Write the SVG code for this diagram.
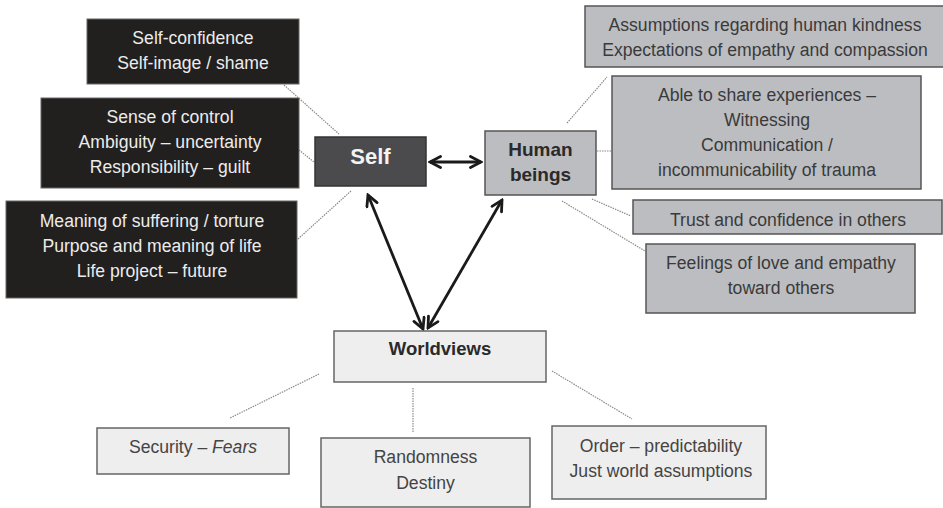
<svg xmlns="http://www.w3.org/2000/svg" width="943" height="508" viewBox="0 0 943 508">
  <defs>
    <marker id="head" viewBox="0 0 14 14" refX="12" refY="7" markerWidth="14" markerHeight="14" markerUnits="userSpaceOnUse" orient="auto-start-reverse">
      <path d="M1.5,1.5 L12,7 L1.5,12.5" fill="none" stroke="#1a1a1a" stroke-width="2.8" stroke-linecap="round" stroke-linejoin="miter"/>
    </marker>
    <style>
      text { font-family: "Liberation Sans", Arial, sans-serif; text-anchor: middle; }
      .dark rect { fill: #221f1f; stroke: #666; stroke-width: 1; }
      .dark text { fill: #ececec; font-size: 17.6px; }
      .gray rect { fill: #bcbdc0; stroke: #555; stroke-width: 1.5; }
      .gray text { fill: #3a3a3a; font-size: 17.6px; }
      .light rect { fill: #eeeeee; stroke: #666; stroke-width: 1.5; }
      .light text { fill: #444; font-size: 17.6px; }
      .hub text { font-weight: bold; fill: #2a2a2a; }
      .dots line { stroke: #8a8a8a; stroke-width: 1.2; stroke-dasharray: 1.5 1; }
      .arrows line { stroke: #1a1a1a; stroke-width: 2.8; marker-start: url(#head); marker-end: url(#head); }
    </style>
  </defs>

  <!-- dotted links from hubs to their topic boxes -->
  <g id="connectors">
    <g class="dots">
      <line x1="284" y1="85" x2="339" y2="134"/>
      <line x1="299" y1="150" x2="314" y2="162"/>
      <line x1="351" y1="191" x2="298" y2="239"/>
      <line x1="567" y1="123" x2="607" y2="77"/>
      <line x1="597" y1="151" x2="612" y2="151"/>
      <line x1="592" y1="199" x2="631" y2="216"/>
      <line x1="562" y1="201" x2="645" y2="251"/>
      <line x1="319" y1="374" x2="230" y2="418"/>
      <line x1="413" y1="388" x2="413" y2="433"/>
      <line x1="552" y1="371" x2="632" y2="419"/>
    </g>
    <g class="arrows">
      <line x1="430" y1="162" x2="481" y2="162"/>
      <line x1="368" y1="195" x2="423" y2="329"/>
      <line x1="502" y1="200" x2="428" y2="328"/>
    </g>
  </g>

  <!-- Self topics -->
  <g id="self-confidence" class="dark">
    <rect x="87" y="19" width="212" height="65"/>
    <text x="193" y="44">Self-confidence</text>
    <text x="193" y="69">Self-image / shame</text>
  </g>
  <g id="control" class="dark">
    <rect x="41" y="98" width="258" height="90"/>
    <text x="170" y="123">Sense of control</text>
    <text x="170" y="148">Ambiguity – uncertainty</text>
    <text x="170" y="173">Responsibility – guilt</text>
  </g>
  <g id="meaning" class="dark">
    <rect x="6" y="201" width="291" height="97"/>
    <text x="152" y="227">Meaning of suffering / torture</text>
    <text x="152" y="252">Purpose and meaning of life</text>
    <text x="152" y="277">Life project – future</text>
  </g>

  <!-- Hubs -->
  <g id="self" class="hub">
    <rect x="315" y="137" width="111" height="49" fill="#4b4b4d" stroke="#333" stroke-width="1.5"/>
    <text x="370.5" y="164" style="fill:#f4f4f4;font-size:22px">Self</text>
  </g>
  <g id="human-beings" class="hub gray">
    <rect x="485" y="131" width="111" height="64"/>
    <text x="540.5" y="156" style="fill:#2a2a2a;font-size:19px">Human</text>
    <text x="540.5" y="181" style="fill:#2a2a2a;font-size:19px">beings</text>
  </g>
  <g id="worldviews" class="hub light">
    <rect x="334" y="331" width="212" height="51"/>
    <text x="440" y="355" style="fill:#2a2a2a;font-size:18.5px">Worldviews</text>
  </g>

  <!-- Human beings topics -->
  <g id="kindness" class="gray">
    <rect x="585" y="6" width="362" height="61"/>
    <text x="765" y="31">Assumptions regarding human kindness</text>
    <text x="765" y="56">Expectations of empathy and compassion</text>
  </g>
  <g id="sharing" class="gray">
    <rect x="612" y="76" width="309" height="113"/>
    <text x="767" y="101">Able to share experiences –</text>
    <text x="767" y="126">Witnessing</text>
    <text x="767" y="151">Communication /</text>
    <text x="767" y="176">incommunicability of trauma</text>
  </g>
  <g id="trust" class="gray">
    <rect x="633" y="200" width="309" height="34"/>
    <text x="788" y="226">Trust and confidence in others</text>
  </g>
  <g id="feelings" class="gray">
    <rect x="646" y="244" width="269" height="69"/>
    <text x="781" y="269">Feelings of love and empathy</text>
    <text x="781" y="294">toward others</text>
  </g>

  <!-- Worldviews topics -->
  <g id="security" class="light">
    <rect x="97" y="428" width="192" height="46"/>
    <text x="193" y="453">Security – <tspan font-style="italic">Fears</tspan></text>
  </g>
  <g id="randomness" class="light">
    <rect x="321" y="438" width="209" height="69"/>
    <text x="425.5" y="463">Randomness</text>
    <text x="425.5" y="489">Destiny</text>
  </g>
  <g id="order" class="light">
    <rect x="552" y="426" width="214" height="73"/>
    <text x="661" y="452">Order – predictability</text>
    <text x="661" y="477">Just world assumptions</text>
  </g>
</svg>
